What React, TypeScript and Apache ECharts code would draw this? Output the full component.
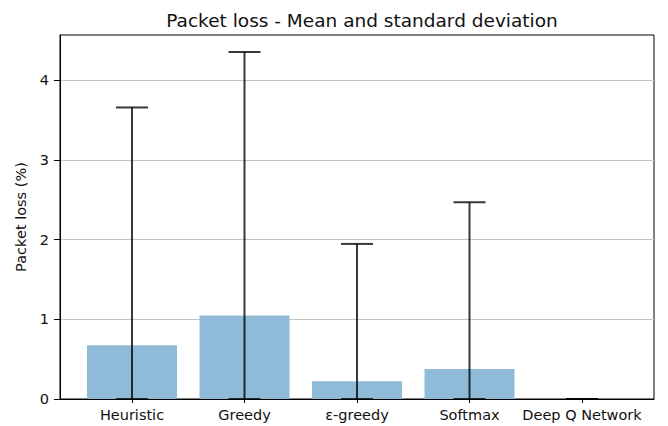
import React, { useEffect, useRef } from "react";
import * as echarts from "echarts";

const categories = ["Heuristic", "Greedy", "ε-greedy", "Softmax", "Deep Q Network"];
const meanValues = [0.675, 1.047, 0.222, 0.377, 0];
const errorLow = [0, 0, 0, 0, 0];
const errorHigh = [3.66, 4.355, 1.947, 2.47, 0];
const yTicks = [0, 1, 2, 3, 4];

const FONT = "DejaVu Sans";

export default function App() {
  const ref = useRef<HTMLDivElement>(null);
  useEffect(() => {
    if (!ref.current) return;
    const chart = echarts.init(ref.current, undefined, { renderer: "svg" });
    const idx = categories.map((_, i) => i);
    chart.setOption({
      animation: false,
      backgroundColor: "#ffffff",
      title: {
        text: "Packet loss - Mean and standard deviation",
        left: 357,
        textAlign: "center",
        top: 6,
        textStyle: { fontFamily: FONT, fontSize: 18.5, fontWeight: "normal", color: "#111" },
      },
      grid: {
        left: 60,
        right: 14,
        top: 35,
        bottom: 27,
        show: true,
        borderColor: "#000",
        borderWidth: 1,
        backgroundColor: "transparent",
      },
      xAxis: {
        type: "value",
        min: -0.64,
        max: 4.64,
        splitLine: { show: false },
        axisLine: { show: true, onZero: false, lineStyle: { color: "#000", width: 1 } },
        axisTick: { show: true, customValues: idx, length: 4, lineStyle: { color: "#000" } },
        axisLabel: {
          customValues: idx,
          formatter: (v: number) => categories[Math.round(v)] ?? "",
          fontFamily: FONT,
          fontSize: 14.5,
          color: "#111",
          margin: 8,
        },
      },
      yAxis: {
        type: "value",
        min: 0,
        max: 4.57,
        interval: 1,
        name: "Packet loss (%)",
        nameLocation: "middle",
        nameGap: 31,
        nameTextStyle: { fontFamily: FONT, fontSize: 14.5, color: "#111" },
        axisLine: { show: true, onZero: false, lineStyle: { color: "#000", width: 1 } },
        axisTick: { show: true, customValues: yTicks, length: 6, lineStyle: { color: "#000" } },
        axisLabel: {
          customValues: yTicks,
          fontFamily: FONT,
          fontSize: 14.5,
          color: "#111",
          margin: 11,
        },
        splitLine: { show: true, lineStyle: { color: "#c4c4c4", width: 1 } },
      },
      series: [
        {
          type: "custom",
          clip: true,
          data: idx.map((i) => [i, meanValues[i]]),
          renderItem: (params: any, api: any) => {
            const x = api.value(0);
            const y = api.value(1);
            const p0 = api.coord([x - 0.4, 0]);
            const p1 = api.coord([x + 0.4, y]);
            return {
              type: "rect",
              shape: { x: p0[0], y: p1[1], width: p1[0] - p0[0], height: p0[1] - p1[1] },
              style: { fill: "#8fbbd9" },
            };
          },
        },
        {
          type: "custom",
          clip: false,
          data: idx.map((i) => [i, errorLow[i], errorHigh[i]]),
          renderItem: (params: any, api: any) => {
            const x = api.value(0);
            const lo = api.coord([x, api.value(1)]);
            const hi = api.coord([x, api.value(2)]);
            const cap = 16;
            const st = { stroke: "rgba(0,0,0,0.78)", lineWidth: 2 };
            return {
              type: "group",
              children: [
                { type: "line", shape: { x1: lo[0], y1: lo[1], x2: hi[0], y2: hi[1] }, style: st },
                { type: "line", shape: { x1: hi[0] - cap, y1: hi[1], x2: hi[0] + cap, y2: hi[1] }, style: st },
                { type: "line", shape: { x1: lo[0] - cap, y1: lo[1], x2: lo[0] + cap, y2: lo[1] }, style: st },
              ],
            };
          },
        },
      ],
    });
    return () => chart.dispose();
  }, []);
  return <div ref={ref} style={{ width: 668, height: 426, position: "absolute", left: 0, top: 0 }} />;
}
